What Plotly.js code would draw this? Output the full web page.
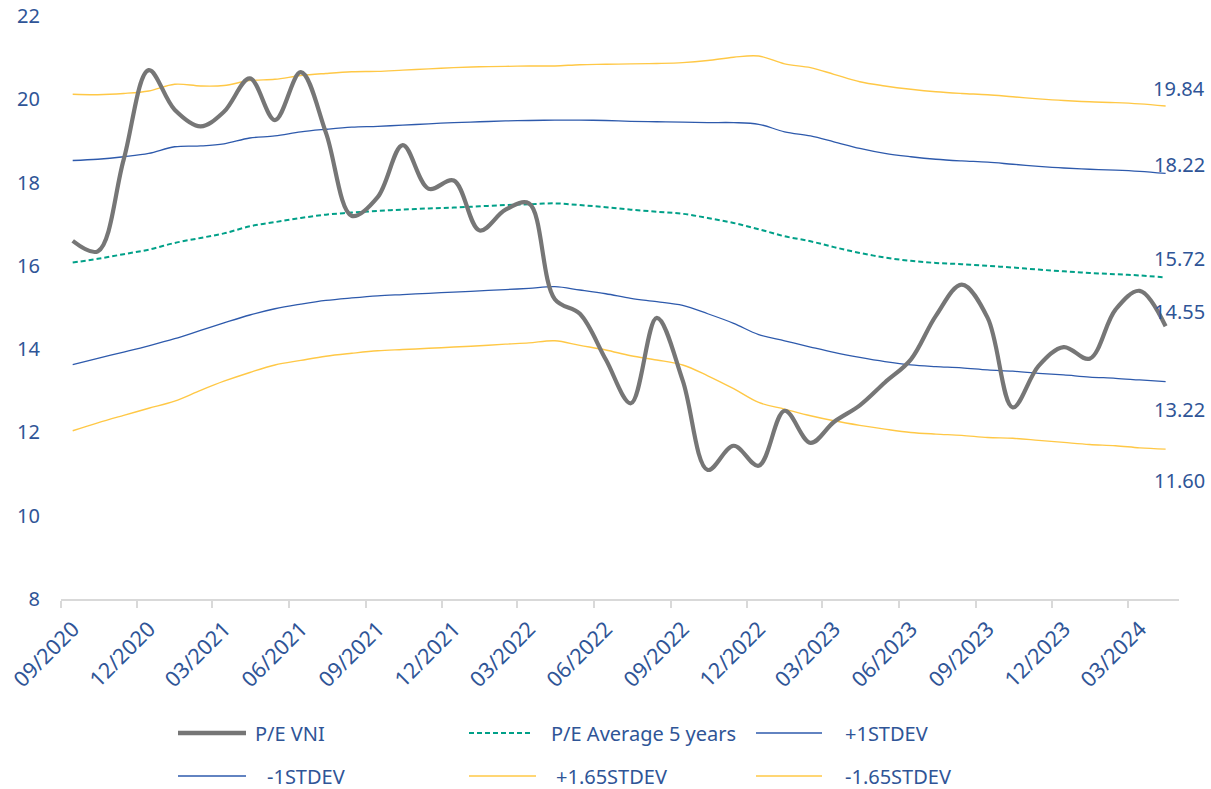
<!DOCTYPE html>
<html>
<head>
<meta charset="utf-8">
<script src="https://cdn.plot.ly/plotly-3.0.1.min.js"></script>
<style>
  html, body { margin: 0; padding: 0; background: #ffffff; }
  #chart { width: 1211px; height: 789px; }
</style>
</head>
<body>
<div id="chart"></div>
<script>
// ---------- data ----------
const dates = [
  '2020-09-15','2020-10-15','2020-11-15','2020-12-15',
  '2021-01-15','2021-02-15','2021-03-15','2021-04-15','2021-05-15','2021-06-15',
  '2021-07-15','2021-08-15','2021-09-15','2021-10-15','2021-11-15','2021-12-15',
  '2022-01-15','2022-02-15','2022-03-15','2022-04-15','2022-05-15','2022-06-15',
  '2022-07-15','2022-08-15','2022-09-15','2022-10-15','2022-11-15','2022-12-15',
  '2023-01-15','2023-02-15','2023-03-15','2023-04-15','2023-05-15','2023-06-15',
  '2023-07-15','2023-08-15','2023-09-15','2023-10-15','2023-11-15','2023-12-15',
  '2024-01-15','2024-02-15','2024-03-15','2024-04-15'
];

const peVNI = [16.6, 16.35, 18.55, 20.7, 19.75, 19.35, 19.7, 20.5, 19.5, 20.65,
  19.2, 17.2, 17.65, 18.9, 17.85, 18.05, 16.85, 17.35, 17.5, 15.2,
  14.85, 13.75, 12.7, 14.75, 13.25, 11.1, 11.68, 11.2, 12.52, 11.75,
  12.25, 12.65, 13.2, 13.75, 14.8, 15.55, 14.75, 12.6, 13.6, 14.05,
  13.77, 14.95, 15.4, 14.55];

const peAvg5y = [16.08, 16.17, 16.28, 16.39, 16.55, 16.67, 16.78, 16.95, 17.05, 17.15,
  17.23, 17.28, 17.32, 17.35, 17.38, 17.4, 17.43, 17.46, 17.48, 17.5,
  17.46, 17.41, 17.35, 17.3, 17.25, 17.15, 17.03, 16.88, 16.71, 16.59,
  16.45, 16.31, 16.2, 16.12, 16.07, 16.04, 16.0, 15.96, 15.91, 15.87,
  15.83, 15.8, 15.77, 15.72];

const plus1Std = [18.53, 18.56, 18.62, 18.7, 18.86, 18.88, 18.93, 19.07, 19.12, 19.22,
  19.28, 19.33, 19.35, 19.38, 19.41, 19.44, 19.46, 19.48, 19.49, 19.5,
  19.5, 19.49, 19.47, 19.46, 19.45, 19.44, 19.44, 19.4, 19.22, 19.12,
  18.98, 18.82, 18.7, 18.62, 18.56, 18.52, 18.49, 18.44, 18.39, 18.35,
  18.32, 18.3, 18.27, 18.22];

const minus1Std = [13.63, 13.78, 13.93, 14.08, 14.25, 14.45, 14.63, 14.82, 14.97, 15.08,
  15.17, 15.23, 15.28, 15.31, 15.34, 15.37, 15.4, 15.43, 15.46, 15.5,
  15.42, 15.33, 15.22, 15.14, 15.05, 14.85, 14.62, 14.35, 14.2, 14.05,
  13.92, 13.8, 13.7, 13.62, 13.58, 13.55, 13.5, 13.47, 13.42, 13.38,
  13.33, 13.3, 13.26, 13.22];

const plus165Std = [20.12, 20.11, 20.14, 20.2, 20.36, 20.32, 20.33, 20.45, 20.48, 20.57,
  20.62, 20.66, 20.67, 20.7, 20.73, 20.76, 20.78, 20.79, 20.8, 20.8,
  20.83, 20.84, 20.85, 20.86, 20.88, 20.93, 21.01, 21.04, 20.85, 20.76,
  20.6, 20.42, 20.32, 20.24, 20.18, 20.14, 20.11, 20.06, 20.01, 19.97,
  19.94, 19.92, 19.89, 19.84];

const minus165Std = [12.04, 12.23, 12.41, 12.58, 12.75, 13.01, 13.23, 13.44, 13.62, 13.73,
  13.83, 13.9, 13.96, 13.99, 14.02, 14.05, 14.08, 14.12, 14.15, 14.2,
  14.09, 13.98, 13.84, 13.74, 13.62, 13.36, 13.05, 12.72, 12.56, 12.4,
  12.28, 12.17, 12.08, 12.0, 11.96, 11.93, 11.88, 11.86, 11.81, 11.76,
  11.71, 11.68, 11.63, 11.6];

const seriesNames = ['P/E VNI', 'P/E Average 5 years', '+1STDEV', '-1STDEV', '+1.65STDEV', '-1.65STDEV'];

const tickLabels = ['09/2020','12/2020','03/2021','06/2021','09/2021','12/2021','03/2022',
  '06/2022','09/2022','12/2022','03/2023','06/2023','09/2023','12/2023','03/2024'];

const endLabels = ['19.84', '18.22', '15.72', '14.55', '13.22', '11.60'];

// ---------- styling ----------
const W = 1211, H = 789;
const M = { l: 61, r: 32, t: 16, b: 190 };
const plotW = W - M.l - M.r, plotH = H - M.t - M.b;
const TEXT = '#2F5597';
const FONT = '"Noto Sans", "Open Sans", sans-serif';
const GREY = '#767676', TEAL = '#00A088', BLUE = '#2E5AAC', GOLD = '#FFC846';

const styles = [
  { color: GREY, width: 4.2, dash: 'solid' },
  { color: TEAL, width: 2,   dash: '5px,3px' },
  { color: BLUE, width: 1.3, dash: 'solid' },
  { color: BLUE, width: 1.3, dash: 'solid' },
  { color: GOLD, width: 1.4, dash: 'solid' },
  { color: GOLD, width: 1.4, dash: 'solid' }
];
const seriesData = [peVNI, peAvg5y, plus1Std, minus1Std, plus165Std, minus165Std];

// draw the thin bands first, the P/E line on top
const drawOrder = [5, 4, 3, 2, 1, 0];
const traces = drawOrder.map(i => ({
  type: 'scatter',
  mode: 'lines',
  name: seriesNames[i],
  x: dates,
  y: seriesData[i],
  line: { color: styles[i].color, width: styles[i].width, dash: styles[i].dash,
          shape: 'spline', smoothing: 1 },
  showlegend: false,
  hoverinfo: 'x+y+name'
}));

const tickVals = tickLabels.map(t => {
  const [mm, yyyy] = t.split('/');
  return yyyy + '-' + mm + '-01';
});

// right-hand value labels (offsets from the series end value, pixels)
const endShift = [17, 9, 19, 15, -28, -31];
const annotations = endLabels.map((t, i) => ({
  xref: 'paper', x: 1, xanchor: 'right', xshift: 28,
  yref: 'y', y: parseFloat(t), yanchor: 'middle', yshift: endShift[i],
  text: t, showarrow: false,
  font: { family: FONT, size: 20, color: TEXT }
}));

// custom legend (two rows of three)
const px2x = px => (px - M.l) / plotW;
const px2y = py => (H - M.b - py) / plotH;
const legendPos = [
  { x0: 178, x1: 246, y: 733, tx: 253 },
  { x0: 469, x1: 530, y: 733, tx: 549 },
  { x0: 756, x1: 822, y: 733, tx: 843 },
  { x0: 178, x1: 246, y: 776, tx: 265 },
  { x0: 469, x1: 536, y: 776, tx: 554 },
  { x0: 756, x1: 822, y: 776, tx: 843 }
];
const shapes = legendPos.map((p, i) => ({
  type: 'line', xref: 'paper', yref: 'paper',
  x0: px2x(p.x0), x1: px2x(p.x1), y0: px2y(p.y), y1: px2y(p.y),
  line: { color: styles[i].color, width: i === 0 ? 4.5 : (i === 1 ? 2 : 1.6), dash: styles[i].dash }
}));
legendPos.forEach((p, i) => annotations.push({
  xref: 'paper', yref: 'paper', x: px2x(p.tx), y: px2y(p.y),
  xanchor: 'left', yanchor: 'middle', showarrow: false,
  text: seriesNames[i],
  font: { family: FONT, size: 20, color: TEXT }
}));

const layout = {
  width: W, height: H,
  margin: M,
  paper_bgcolor: '#ffffff',
  plot_bgcolor: '#ffffff',
  showlegend: false,
  font: { family: FONT, size: 20, color: TEXT },
  xaxis: {
    type: 'date',
    range: ['2020-09-01', '2024-05-01'],
    tickmode: 'array',
    tickvals: tickVals,
    ticktext: tickLabels,
    tickangle: -45,
    ticklabeloverflow: 'allow',
    ticklabelshift: 12,
    tickfont: { family: FONT, size: 21.5, color: TEXT },
    showgrid: false,
    zeroline: false,
    showline: true,
    linecolor: '#D9D9D9',
    linewidth: 2,
    ticks: 'outside',
    ticklen: 7,
    tickwidth: 2,
    tickcolor: '#D9D9D9'
  },
  yaxis: {
    range: [8, 22],
    dtick: 2,
    tick0: 8,
    showgrid: false,
    zeroline: false,
    showline: false,
    ticks: '',
    ticklabelstandoff: 20,
    tickfont: { family: FONT, size: 20, color: TEXT }
  },
  shapes: shapes,
  annotations: annotations
};

Plotly.newPlot('chart', traces, layout, { displayModeBar: false, staticPlot: true });
</script>
</body>
</html>
